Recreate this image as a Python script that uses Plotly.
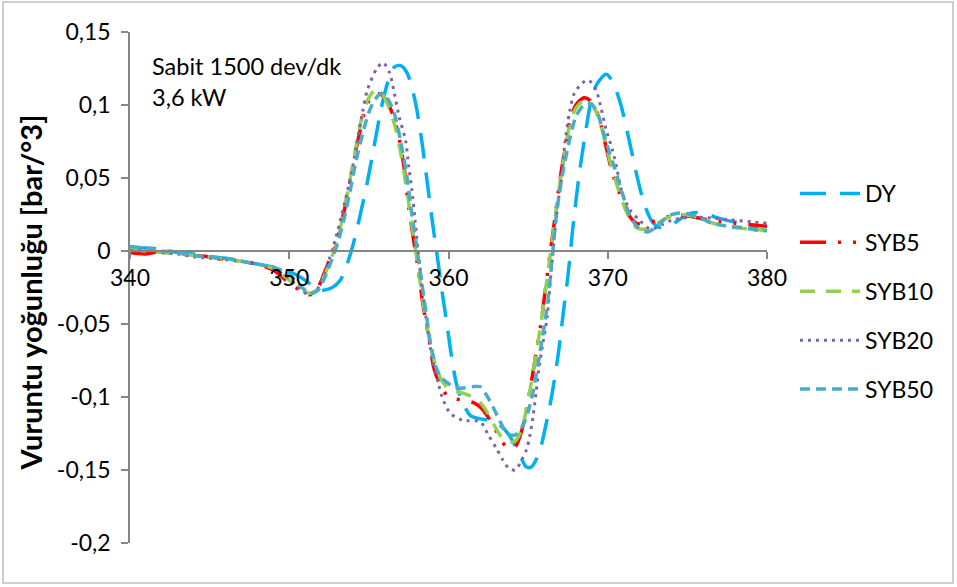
import plotly.graph_objects as go

# ---------------- data ----------------
dy_x = [340, 341, 342, 343, 344, 345, 346, 347, 348, 349, 350, 351, 351.9, 352.7, 353.2, 353.6, 354.0, 354.4,
        354.9, 355.4, 355.8, 356.2, 356.6, 357.0, 357.4, 357.9, 358.3, 358.7, 359.0, 359.3, 359.6, 359.9,
        360.2, 360.5, 360.9, 361.4, 362.0, 362.6, 363.2, 363.8, 364.4, 364.9, 365.2, 365.7, 366.1, 366.5,
        366.9, 367.2, 367.5, 367.8, 368.2, 368.6, 368.9, 369.3, 369.9, 370.3, 370.8, 371.3, 371.8, 372.3,
        372.8, 373.3, 374.0, 374.7, 375.3, 376.0, 376.8, 377.5, 378.3, 379.0, 380.0]
dy_y = [0.002, 0.002, 0.001, -0.001, -0.002, -0.004, -0.005, -0.007, -0.009, -0.011, -0.014, -0.020, -0.027,
        -0.025, -0.020, -0.010, 0.004, 0.022, 0.047, 0.076, 0.099, 0.116, 0.126, 0.127, 0.122, 0.103, 0.077,
        0.044, 0.019, -0.004, -0.028, -0.050, -0.073, -0.091, -0.104, -0.113, -0.115, -0.116, -0.119, -0.126,
        -0.138, -0.148, -0.148, -0.138, -0.120, -0.098, -0.070, -0.043, -0.017, 0.015, 0.052, 0.081, 0.100,
        0.114, 0.121, 0.116, 0.101, 0.078, 0.053, 0.032, 0.020, 0.016, 0.018, 0.023, 0.026, 0.026, 0.023,
        0.021, 0.019, 0.016, 0.014]

syb5_x = [340, 341, 342, 343, 344, 345, 346, 347, 348, 349, 349.9, 350.7, 351.3, 351.8, 352.2, 352.6, 352.9,
          353.2, 353.5, 353.9, 354.3, 354.7, 355.1, 355.5, 355.9, 356.3, 356.8, 357.2, 357.5, 357.8, 358.1,
          358.4, 358.8, 359.1, 359.5, 360.0, 360.8, 361.6, 362.1, 362.5, 362.9, 363.3, 363.8, 364.2, 364.6,
          364.9, 365.2, 365.5, 365.8, 366.1, 366.4, 366.7, 367.0, 367.3, 367.6, 368.0, 368.5, 368.9, 369.4,
          369.9, 370.3, 370.8, 371.3, 371.8, 372.4, 373.1, 374.0, 375.0, 376.0, 377.0, 378.0, 379.0, 380.0]
syb5_y = [-0.001, -0.002, 0.0, -0.001, -0.003, -0.004, -0.006, -0.007, -0.009, -0.013, -0.021, -0.027, -0.030,
          -0.025, -0.015, -0.004, 0.004, 0.016, 0.030, 0.052, 0.075, 0.094, 0.105, 0.108, 0.106, 0.099, 0.082,
          0.058, 0.030, 0.008, -0.013, -0.037, -0.062, -0.081, -0.092, -0.100, -0.102, -0.104, -0.108, -0.114,
          -0.121, -0.130, -0.135, -0.134, -0.123, -0.108, -0.090, -0.070, -0.050, -0.025, 0.0, 0.024, 0.049,
          0.069, 0.088, 0.100, 0.105, 0.103, 0.093, 0.071, 0.053, 0.038, 0.025, 0.019, 0.019, 0.021, 0.024,
          0.024, 0.022, 0.020, 0.019, 0.018, 0.017]

syb10_x = [340, 341, 342, 343, 344, 345, 346, 347, 348, 349, 349.9, 350.7, 351.3, 351.8, 352.2, 352.6, 353.0,
           353.4, 353.8, 354.2, 354.6, 355.0, 355.4, 355.8, 356.2, 356.7, 357.1, 357.5, 357.8, 358.1, 358.4,
           358.8, 359.2, 359.6, 360.1, 360.8, 361.5, 362.0, 362.4, 362.8, 363.3, 363.8, 364.2, 364.6, 364.9,
           365.2, 365.5, 365.8, 366.1, 366.4, 366.7, 367.0, 367.3, 367.6, 368.0, 368.5, 368.9, 369.4, 369.9,
           370.3, 370.8, 371.3, 371.8, 372.4, 373.1, 373.8, 374.5, 375.3, 376.0, 377.0, 378.0, 379.0, 380.0]
syb10_y = [0.001, 0.0, -0.001, -0.002, -0.003, -0.004, -0.006, -0.007, -0.009, -0.012, -0.019, -0.026, -0.029,
           -0.026, -0.017, -0.006, 0.006, 0.026, 0.048, 0.072, 0.093, 0.105, 0.110, 0.108, 0.100, 0.083, 0.061,
           0.033, 0.010, -0.012, -0.035, -0.060, -0.079, -0.089, -0.095, -0.097, -0.100, -0.104, -0.110, -0.118,
           -0.127, -0.131, -0.130, -0.122, -0.108, -0.090, -0.070, -0.050, -0.026, -0.002, 0.023, 0.047, 0.068,
           0.086, 0.098, 0.103, 0.102, 0.092, 0.072, 0.055, 0.038, 0.024, 0.016, 0.015, 0.019, 0.023, 0.025,
           0.024, 0.021, 0.018, 0.016, 0.015, 0.014]

syb20_x = [340, 341, 342, 343, 344, 345, 346, 347, 348, 349, 349.9, 350.7, 351.2, 351.7, 352.1, 352.5, 352.9,
           353.3, 353.9, 354.2, 354.6, 354.9, 355.5, 355.9, 356.3, 356.6, 356.9, 357.3, 357.5, 357.7, 357.9,
           358.1, 358.3, 358.6, 359.0, 359.3, 359.6, 360.1, 360.9, 362.0, 362.5, 363.0, 363.4, 363.8, 364.2,
           364.6, 364.9, 365.1, 365.3, 365.5, 365.7, 365.9, 366.2, 366.4, 366.7, 366.9, 367.1, 367.3, 367.6,
           367.9, 368.4, 368.8, 369.3, 369.6, 369.9, 370.3, 370.6, 370.9, 371.4, 372.0, 372.7, 373.4, 374.0,
           375.0, 376.0, 377.0, 378.0, 379.0, 380.0]
syb20_y = [0.0, 0.001, -0.001, -0.002, -0.004, -0.005, -0.006, -0.007, -0.009, -0.012, -0.018, -0.026, -0.030,
           -0.027, -0.018, -0.006, 0.008, 0.025, 0.053, 0.071, 0.095, 0.110, 0.125, 0.129, 0.122, 0.108, 0.092,
           0.076, 0.058, 0.042, 0.021, -0.001, -0.020, -0.047, -0.075, -0.088, -0.100, -0.111, -0.116, -0.117,
           -0.126, -0.135, -0.143, -0.149, -0.150, -0.143, -0.136, -0.127, -0.114, -0.097, -0.079, -0.065,
           -0.045, -0.020, 0.016, 0.035, 0.050, 0.073, 0.095, 0.108, 0.115, 0.117, 0.109, 0.097, 0.083, 0.069,
           0.055, 0.040, 0.028, 0.021, 0.015, 0.018, 0.021, 0.023, 0.023, 0.022, 0.021, 0.020, 0.019]

syb50_x = [340, 341, 342, 343, 344, 345, 346, 347, 348, 349, 350, 350.7, 351.3, 351.8, 352.2, 352.6, 353.0,
           353.4, 353.8, 354.2, 354.6, 355.0, 355.4, 355.8, 356.2, 356.6, 357.0, 357.4, 357.7, 358.0, 358.3,
           358.6, 358.9, 359.2, 359.5, 359.9, 360.3, 360.8, 361.5, 362.0, 362.4, 362.8, 363.2, 363.7, 364.2,
           364.7, 365.0, 365.3, 365.6, 365.9, 366.2, 366.5, 366.8, 367.2, 367.6, 368.0, 368.5, 368.9, 369.3,
           369.6, 370.0, 370.4, 370.9, 371.4, 371.9, 372.5, 373.2, 373.8, 374.5, 375.2, 375.9, 376.6, 377.5,
           378.5, 379.5, 380.0]
syb50_y = [0.003, 0.002, 0.0, -0.001, -0.003, -0.004, -0.005, -0.007, -0.009, -0.011, -0.016, -0.024, -0.029,
           -0.027, -0.019, -0.008, 0.004, 0.020, 0.040, 0.062, 0.080, 0.095, 0.104, 0.108, 0.104, 0.094, 0.075,
           0.050, 0.025, 0.003, -0.020, -0.043, -0.065, -0.079, -0.086, -0.090, -0.093, -0.094, -0.093, -0.093,
           -0.099, -0.107, -0.116, -0.125, -0.126, -0.119, -0.110, -0.097, -0.079, -0.059, -0.038, -0.006,
           0.027, 0.055, 0.076, 0.092, 0.100, 0.101, 0.096, 0.086, 0.071, 0.058, 0.040, 0.024, 0.016, 0.013,
           0.018, 0.024, 0.026, 0.025, 0.022, 0.019, 0.017, 0.016, 0.014, 0.014]

series_names = ["DY", "SYB5", "SYB10", "SYB20", "SYB50"]
x_ticks = [340, 350, 360, 370, 380]
x_tick_labels = ["340", "350", "360", "370", "380"]
y_ticks = [0.15, 0.1, 0.05, 0, -0.05, -0.1, -0.15, -0.2]
y_tick_labels = ["0,15", "0,1", "0,05", "0", "-0,05", "-0,1", "-0,15", "-0,2"]
y_title = "Vuruntu yoğunluğu [bar/°3]"
note_text = "Sabit 1500 dev/dk<br>3,6 kW"

# ---------------- styling ----------------
FONT = "Lato"
styles = [
    dict(color="#00B0F0", width=3.5, dash="26px,14px"),
    dict(color="#FF0000", width=3.5, dash="26px,12px,3px,12px,3px,12px"),
    dict(color="#92D050", width=3.5, dash="15px,11px"),
    dict(color="#8064A2", width=3, dash="3px,5px"),
    dict(color="#4BACC6", width=3.5, dash="10px,6px"),
]

fig = go.Figure()
for name, xs, ys, st in zip(series_names,
                            [dy_x, syb5_x, syb10_x, syb20_x, syb50_x],
                            [dy_y, syb5_y, syb10_y, syb20_y, syb50_y],
                            styles):
    fig.add_trace(go.Scatter(x=xs, y=ys, name=name, mode="lines",
                             line=dict(shape="spline", smoothing=0.8, **st),
                             legendgroup=name))

W, H = 957, 587
L, R, T, B = 130, 190, 32, 44
pw, ph = W - L - R, H - T - B

fig.update_layout(
    width=W, height=H,
    margin=dict(l=L, r=R, t=T, b=B),
    paper_bgcolor="white", plot_bgcolor="white",
    font=dict(family=FONT, size=23, color="#000000"),
    showlegend=True,
    legend=dict(x=(795 - L) / pw, y=(H - B - 172) / ph, xanchor="left", yanchor="top",
                traceorder="grouped", tracegroupgap=16, itemwidth=60,
                font=dict(family=FONT, size=23), bgcolor="rgba(0,0,0,0)"),
    xaxis=dict(range=[340, 380], tickvals=x_ticks, ticktext=x_tick_labels,
               showgrid=False, zeroline=False, showline=True, linecolor="#868686", linewidth=1.5,
               ticks="outside", ticklen=7, tickcolor="#868686", tickwidth=1.5,
               anchor="free", position=0.2 / 0.35, tickfont=dict(size=23)),
    yaxis=dict(range=[-0.2, 0.15], tickvals=y_ticks, ticktext=y_tick_labels,
               showgrid=False, zeroline=False, showline=True, linecolor="#868686", linewidth=1.5,
               ticks="outside", ticklen=7, tickcolor="#868686", tickwidth=1.5,
               ticklabelstandoff=6, tickfont=dict(size=23)),
    annotations=[
        dict(text="<b>" + y_title + "</b>", xref="paper", yref="paper",
             x=-(L - 31) / pw, y=0.49, textangle=-90, showarrow=False,
             xanchor="center", yanchor="middle", font=dict(size=29)),
        dict(text=note_text, xref="paper", yref="paper", x=(150 - L) / pw, y=(H - B - 50) / ph,
             xanchor="left", yanchor="top", align="left", showarrow=False, font=dict(size=23.5)),
    ],
    shapes=[dict(type="rect", xref="paper", yref="paper",
                 x0=-(L - 3) / pw, x1=(953 - L) / pw, y0=-(B - 4) / ph, y1=(H - B - 2) / ph,
                 line=dict(color="#BFBFBF", width=1.5), layer="below")],
)

fig.write_html("out.html")
